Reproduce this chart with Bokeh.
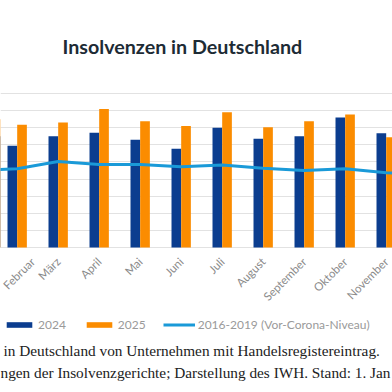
import math
from bokeh.plotting import figure
from bokeh.models import ColumnDataSource, Range1d, FixedTicker, Legend, LegendItem, Label
from bokeh.transform import dodge
from bokeh.embed import file_html
from bokeh.resources import INLINE

# ---- data (monthly corporate insolvencies) ----
months = ["Januar", "Februar", "März", "April", "Mai", "Juni", "Juli",
          "August", "September", "Oktober", "November", "Dezember"]
ins_2024 = [1300, 1190, 1300, 1340, 1260, 1155, 1400, 1270, 1300, 1520, 1335, 1250]
ins_2025 = [1500, 1435, 1460, 1620, 1475, 1420, 1580, 1405, 1475, 1555, 1290, 1400]
pre_corona = [900, 920, 1005, 970, 970, 945, 965, 925, 900, 920, 875, 840]
y_ticks = [0, 200, 400, 600, 800, 1000, 1200, 1400, 1600, 1800]

title_text = "Insolvenzen in Deutschland"
foot1 = "in Deutschland von Unternehmen mit Handelsregistereintrag."
foot2 = "ngen der Insolvenzgerichte; Darstellung des IWH. Stand: 1. Jan"

pos = list(range(len(months)))
src = ColumnDataSource(dict(pos=pos, month=months, y2024=ins_2024,
                            y2025=ins_2025, pre=pre_corona))

NAVY = "#0b3d8f"
ORANGE = "#fb8c00"
LIGHTBLUE = "#1a9ad8"
SANS = "Lato"

# frame fills the canvas; value 0 at 247 px from top, 1800 at 93 px
UNIT_PER_PX = 1800 / 154
X0 = 0.593          # month index at the left edge
PX_PER_MONTH = 41.0

def ypx(py):
    """data value at a given pixel row (from the top)"""
    return (247 - py) * UNIT_PER_PX

def xpx(px):
    return X0 + px / PX_PER_MONTH

p = figure(width=392, height=392, output_backend="svg", toolbar_location=None,
           x_range=Range1d(X0, X0 + 392 / PX_PER_MONTH),
           y_range=Range1d(ypx(392), ypx(0)),
           min_border_left=0, min_border_right=0, min_border_top=0,
           min_border_bottom=0, outline_line_color=None,
           background_fill_color="white", border_fill_color="white")

r24 = p.vbar(x=dodge("pos", -0.118), top="y2024", width=0.236, source=src,
             fill_color=NAVY, line_color=None)
r25 = p.vbar(x=dodge("pos", 0.118), top="y2025", width=0.236, source=src,
             fill_color=ORANGE, line_color=None)
rl = p.line(x="pos", y="pre", source=src, line_color=LIGHTBLUE, line_width=3)

# grid
p.xgrid.visible = False
p.ygrid.ticker = FixedTicker(ticks=y_ticks)
p.ygrid.grid_line_color = "#e2e2e2"
p.ygrid.grid_line_width = 1
p.yaxis.visible = False

# x axis, fixed at value 0
p.xaxis.fixed_location = 0
p.xaxis.ticker = FixedTicker(ticks=pos)
p.xaxis.major_label_overrides = {i: m for i, m in zip(pos, months)}
p.xaxis.major_label_orientation = math.pi / 4
p.xaxis.axis_line_color = None
p.xaxis.major_tick_line_color = None
p.xaxis.minor_tick_line_color = None
p.xaxis.major_tick_in = 0
p.xaxis.major_tick_out = 2
p.xaxis.major_label_standoff = 10
p.xaxis.major_label_text_font = SANS
p.xaxis.major_label_text_font_size = "11.5px"
p.xaxis.major_label_text_color = "#8a8a8a"

# title
p.add_layout(Label(x=xpx(62), y=ypx(45.5), text=title_text, text_font=SANS,
                   text_font_style="bold", text_font_size="19.7px",
                   text_color="#1d2b35", text_baseline="middle", text_align="left"))

# legend (inside the frame, under the axis labels)
legend = Legend(items=[LegendItem(label="2024", renderers=[r24]),
                       LegendItem(label="2025", renderers=[r25]),
                       LegendItem(label="2016-2019 (Vor-Corona-Niveau)", renderers=[rl])],
                orientation="horizontal", location=(3, 60),
                border_line_color=None, background_fill_alpha=0,
                label_text_font=SANS, label_text_font_size="12px",
                label_text_color="#9a9a9a", glyph_width=32, glyph_height=7,
                label_standoff=3, spacing=17, padding=0, margin=0)
p.add_layout(legend, "center")

# footnote lines
for t, xx, yy in ((foot1, xpx(3), ypx(350)), (foot2, xpx(0), ypx(372))):
    p.add_layout(Label(x=xx, y=yy, text=t, text_font="Liberation Serif",
                       text_font_size="15.3px", text_color="#222222",
                       text_baseline="middle", text_align="left"))

open("out.html", "w").write(file_html(p, INLINE))
